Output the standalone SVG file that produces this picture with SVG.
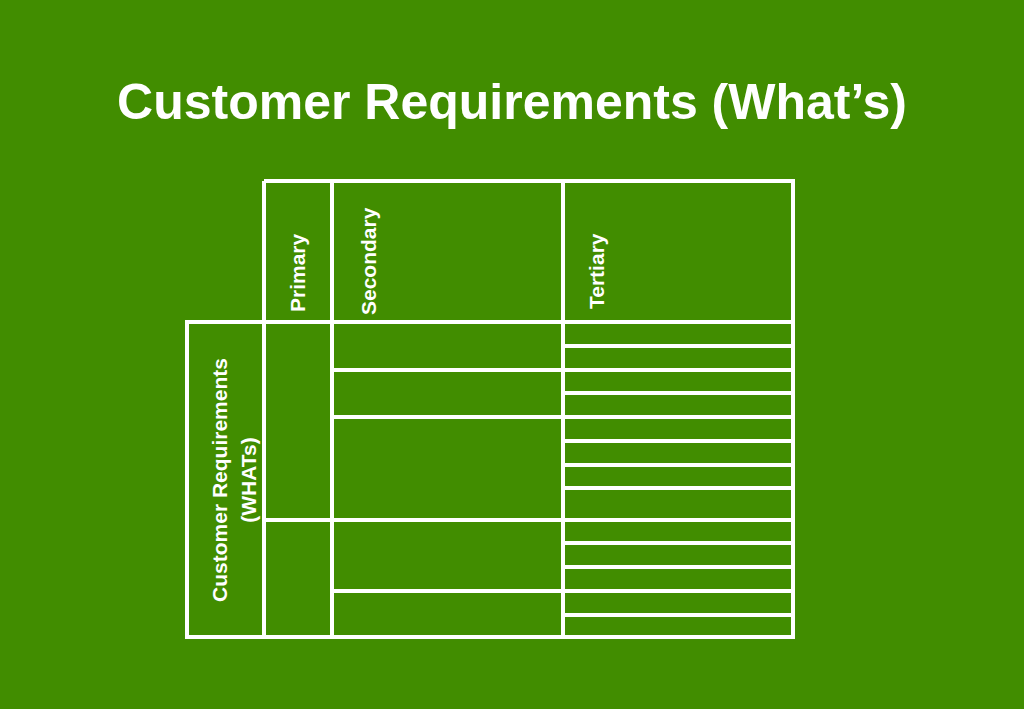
<svg xmlns="http://www.w3.org/2000/svg" width="1024" height="709" viewBox="0 0 1024 709">
<style>
.l{stroke:#fff;stroke-width:4;fill:none}
.t{font-family:"Liberation Sans",Arial,sans-serif;font-weight:bold;fill:#fff}
.v{font-size:21px}
</style>
<rect width="1024" height="709" fill="#418d00"/>
<text class="t" x="512" y="119" font-size="50" text-anchor="middle">Customer Requirements (What’s)</text>
<g id="grid">
<path class="l" d="M264,181H793V637H187V322H793M264,181V637M332,181V637M563,181V637"/>
<path class="l" d="M264,520H332M332,370H563M332,417H563M332,520H563M332,591H563"/>
<path class="l" d="M563,346H793M563,370H793M563,393H793M563,417H793M563,441H793M563,465H793M563,488H793M563,520H793M563,543H793M563,567H793M563,591H793M563,615H793"/>
</g>
<g id="labels">
<text class="t v" transform="translate(305,312) rotate(-90)">Primary</text>
<text class="t v" transform="translate(376,315) rotate(-90)">Secondary</text>
<text class="t v" transform="translate(604,309) rotate(-90)">Tertiary</text>
<text class="t v" text-anchor="middle" transform="translate(227,480) rotate(-90)">Customer Requirements</text>
<text class="t v" text-anchor="middle" transform="translate(256,480) rotate(-90)">(WHATs)</text>
</g>
</svg>
